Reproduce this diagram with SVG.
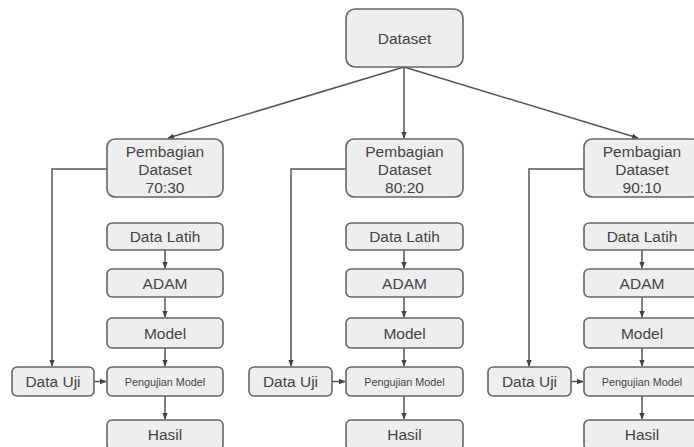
<svg xmlns="http://www.w3.org/2000/svg" width="694" height="447" viewBox="0 0 694 447">
<defs>
<style>
.box{fill:#eeeeee;stroke:#666666;stroke-width:1.6}
.t{font-family:"Liberation Sans",Arial,sans-serif;font-size:15.5px;fill:#444444;text-anchor:middle;dominant-baseline:central}
.s{font-size:10.8px}
.c{fill:none;stroke:#555555;stroke-width:1.5}
</style>
<marker id="ah" viewBox="0 0 10 10" refX="9" refY="5" markerWidth="4.5" markerHeight="4.5" orient="auto">
<path d="M0,1 L10,5 L0,9 z" fill="#444444"/>
</marker>
</defs>
<rect width="694" height="447" fill="#ffffff"/>
<g id="connectors">
<path class="c" marker-end="url(#ah)" d="M404,67 L168,138"/>
<path class="c" marker-end="url(#ah)" d="M404,67 L404,138"/>
<path class="c" marker-end="url(#ah)" d="M404,67 L638,138"/>
<path class="c" marker-end="url(#ah)" d="M107,169 L52,169 L52,366"/>
<path class="c" marker-end="url(#ah)" d="M346,169 L291,169 L291,366"/>
<path class="c" marker-end="url(#ah)" d="M584,169 L529,169 L529,366"/>
<path class="c" marker-end="url(#ah)" d="M165,250 L165,268"/>
<path class="c" marker-end="url(#ah)" d="M165,297 L165,317"/>
<path class="c" marker-end="url(#ah)" d="M165,348 L165,366"/>
<path class="c" marker-end="url(#ah)" d="M165,396 L165,419"/>
<path class="c" marker-end="url(#ah)" d="M404,250 L404,268"/>
<path class="c" marker-end="url(#ah)" d="M404,297 L404,317"/>
<path class="c" marker-end="url(#ah)" d="M404,348 L404,366"/>
<path class="c" marker-end="url(#ah)" d="M404,396 L404,419"/>
<path class="c" marker-end="url(#ah)" d="M642,250 L642,268"/>
<path class="c" marker-end="url(#ah)" d="M642,297 L642,317"/>
<path class="c" marker-end="url(#ah)" d="M642,348 L642,366"/>
<path class="c" marker-end="url(#ah)" d="M642,396 L642,419"/>
<path class="c" marker-end="url(#ah)" d="M94,381.5 L106,381.5"/>
<path class="c" marker-end="url(#ah)" d="M332,381.5 L345,381.5"/>
<path class="c" marker-end="url(#ah)" d="M571,381.5 L583,381.5"/>
</g>
<g id="dataset"><rect class="box" x="346" y="9" width="117" height="58" rx="9"/><text class="t" x="404.5" y="38">Dataset</text></g>
<g id="split7030"><rect class="box" x="107" y="139" width="116" height="58" rx="8"/><text class="t" x="165" y="151">Pembagian</text><text class="t" x="165" y="169">Dataset</text><text class="t" x="165" y="187">70:30</text></g>
<g id="split8020"><rect class="box" x="346" y="139" width="117" height="58" rx="8"/><text class="t" x="404.5" y="151">Pembagian</text><text class="t" x="404.5" y="169">Dataset</text><text class="t" x="404.5" y="187">80:20</text></g>
<g id="split9010"><rect class="box" x="584" y="139" width="116" height="58" rx="8"/><text class="t" x="642" y="151">Pembagian</text><text class="t" x="642" y="169">Dataset</text><text class="t" x="642" y="187">90:10</text></g>
<g id="latih1"><rect class="box" x="107" y="223" width="116" height="27" rx="5"/><text class="t" x="165" y="236.5">Data Latih</text></g>
<g id="latih2"><rect class="box" x="346" y="223" width="117" height="27" rx="5"/><text class="t" x="404.5" y="236.5">Data Latih</text></g>
<g id="latih3"><rect class="box" x="584" y="223" width="116" height="27" rx="5"/><text class="t" x="642" y="236.5">Data Latih</text></g>
<g id="adam1"><rect class="box" x="107" y="269" width="116" height="28" rx="5"/><text class="t" x="165" y="283">ADAM</text></g>
<g id="adam2"><rect class="box" x="346" y="269" width="117" height="28" rx="5"/><text class="t" x="404.5" y="283">ADAM</text></g>
<g id="adam3"><rect class="box" x="584" y="269" width="116" height="28" rx="5"/><text class="t" x="642" y="283">ADAM</text></g>
<g id="model1"><rect class="box" x="107" y="318" width="116" height="30" rx="5"/><text class="t" x="165" y="333">Model</text></g>
<g id="model2"><rect class="box" x="346" y="318" width="117" height="30" rx="5"/><text class="t" x="404.5" y="333">Model</text></g>
<g id="model3"><rect class="box" x="584" y="318" width="116" height="30" rx="5"/><text class="t" x="642" y="333">Model</text></g>
<g id="uji1"><rect class="box" x="12" y="367" width="82" height="29" rx="5"/><text class="t" x="53" y="381.5">Data Uji</text></g>
<g id="uji2"><rect class="box" x="249" y="367" width="83" height="29" rx="5"/><text class="t" x="290.5" y="381.5">Data Uji</text></g>
<g id="uji3"><rect class="box" x="488" y="367" width="83" height="29" rx="5"/><text class="t" x="529.5" y="381.5">Data Uji</text></g>
<g id="pengujian1"><rect class="box" x="107" y="367" width="116" height="29" rx="5"/><text class="t s" x="165" y="381.5">Pengujian Model</text></g>
<g id="pengujian2"><rect class="box" x="346" y="367" width="117" height="29" rx="5"/><text class="t s" x="404.5" y="381.5">Pengujian Model</text></g>
<g id="pengujian3"><rect class="box" x="584" y="367" width="116" height="29" rx="5"/><text class="t s" x="642" y="381.5">Pengujian Model</text></g>
<g id="hasil1"><rect class="box" x="107" y="420" width="116" height="30" rx="5"/><text class="t" x="165" y="434">Hasil</text></g>
<g id="hasil2"><rect class="box" x="346" y="420" width="117" height="30" rx="5"/><text class="t" x="404.5" y="434">Hasil</text></g>
<g id="hasil3"><rect class="box" x="584" y="420" width="116" height="30" rx="5"/><text class="t" x="642" y="434">Hasil</text></g>
</svg>
